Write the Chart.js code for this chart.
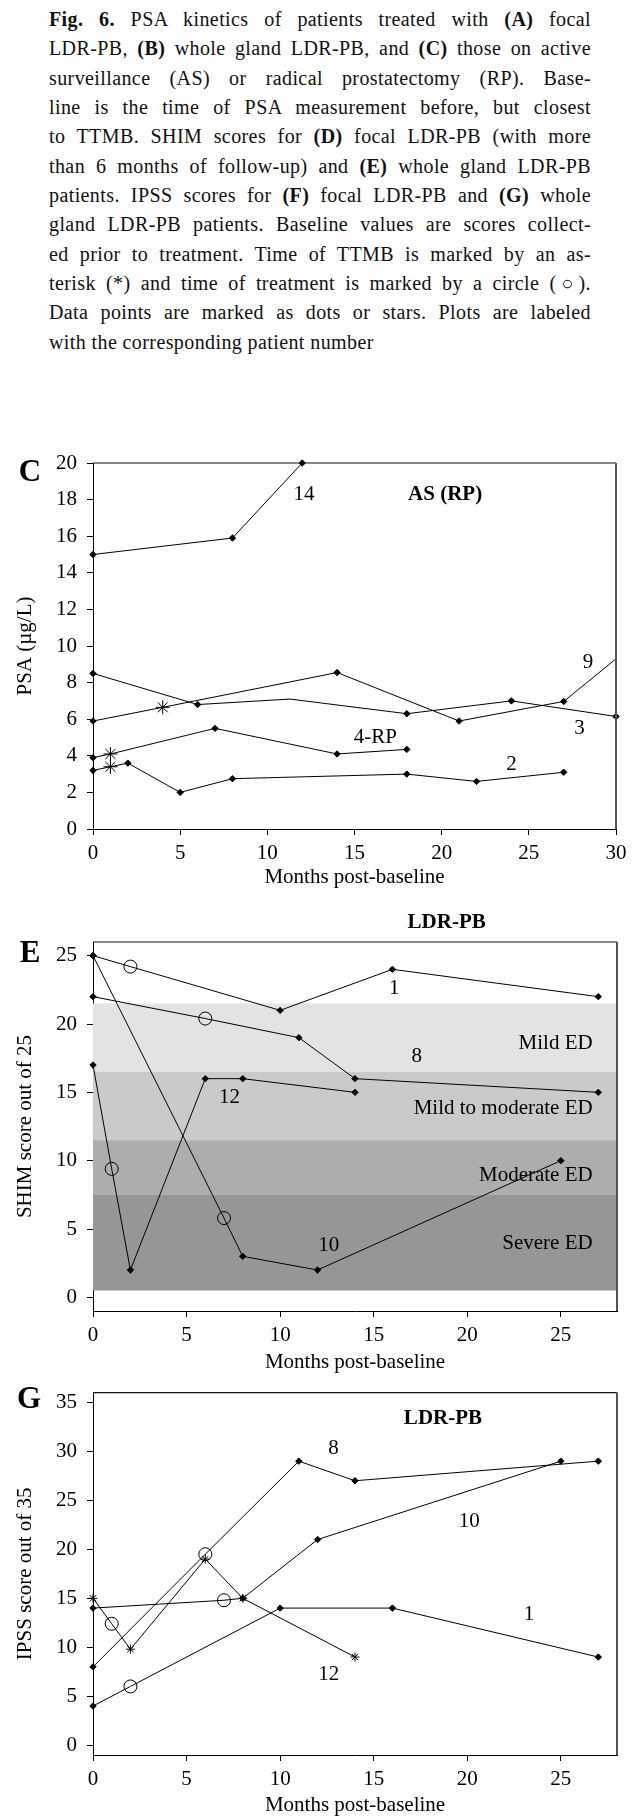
<!DOCTYPE html>
<html>
<head>
<meta charset="utf-8">
<script src="https://cdn.jsdelivr.net/npm/chart.js@4"></script>
<style>
  body { margin: 0; background: #fff; }
  #page { position: relative; width: 640px; height: 1818px; overflow: hidden; font-family: "Liberation Serif", serif; color: #111; }
  #caption { position: absolute; left: 49px; top: 5px; width: 542px; font-size: 20px; line-height: 29.33px; letter-spacing: 0.4px; white-space: nowrap; }
  #caption div { text-align: justify; text-align-last: justify; }
  #caption div.last { text-align-last: left; }
  canvas.panel { position: absolute; left: 0; }
</style>
</head>
<body>
<div id="page">
  <div id="caption">
    <div><b>Fig. 6.</b> PSA kinetics of patients treated with <b>(A)</b> focal</div>
    <div>LDR-PB, <b>(B)</b> whole gland LDR-PB, and <b>(C)</b> those on active</div>
    <div>surveillance (AS) or radical prostatectomy (RP). Base-</div>
    <div>line is the time of PSA measurement before, but closest</div>
    <div>to TTMB. SHIM scores for <b>(D)</b> focal LDR-PB (with more</div>
    <div>than 6 months of follow-up) and <b>(E)</b> whole gland LDR-PB</div>
    <div>patients. IPSS scores for <b>(F)</b> focal LDR-PB and <b>(G)</b> whole</div>
    <div>gland LDR-PB patients. Baseline values are scores collect-</div>
    <div>ed prior to treatment. Time of TTMB is marked by an as-</div>
    <div>terisk (*) and time of treatment is marked by a circle (○).</div>
    <div>Data points are marked as dots or stars. Plots are labeled</div>
    <div class="last">with the corresponding patient number</div>
  </div>
  <canvas id="chartC" class="panel" style="top:440px;width:640px;height:450px" width="640" height="450"></canvas>
  <canvas id="chartE" class="panel" style="top:895px;width:640px;height:480px" width="640" height="480"></canvas>
  <canvas id="chartG" class="panel" style="top:1370px;width:640px;height:448px" width="640" height="448"></canvas>
</div>
<script>
// event codes: m = measurement, t = TTMB (asterisk), r = treatment (circle), e = line runs on, no mark

// --- C: PSA, AS (RP) ---
const cTicksX = [0, 5, 10, 15, 20, 25, 30];
const cTicksY = [0, 2, 4, 6, 8, 10, 12, 14, 16, 18, 20];
const c14Month = [0, 8, 12];
const c14Psa = [15, 15.9, 20];
const c14Event = ["m", "m", "m"];
const c3Month = [0, 6, 11.3, 18, 24, 30];
const c3Psa = [8.5, 6.8, 7.1, 6.3, 7.0, 6.15];
const c3Event = ["m", "m", "e", "m", "m", "m"];
const c9Month = [0, 4, 14, 21, 27, 30];
const c9Psa = [5.9, 6.65, 8.55, 5.9, 6.97, 9.3];
const c9Event = ["m", "t", "m", "m", "m", "e"];
const c4Month = [0, 1, 7, 14, 18];
const c4Psa = [3.9, 4.1, 5.5, 4.1, 4.35];
const c4Event = ["m", "t", "m", "m", "m"];
const c2Month = [0, 1, 2, 5, 8, 18, 22, 27];
const c2Psa = [3.2, 3.4, 3.6, 2.0, 2.75, 3.0, 2.6, 3.1];
const c2Event = ["m", "t", "m", "m", "m", "m", "m", "m"];

// --- E: SHIM, LDR-PB ---
const eTicksX = [0, 5, 10, 15, 20, 25];
const eTicksY = [0, 5, 10, 15, 20, 25];
const eBandName = ["Mild ED", "Mild to moderate ED", "Moderate ED", "Severe ED"];
const eBandTop = [21.5, 16.5, 11.5, 7.5];
const eBandBottom = [16.5, 11.5, 7.5, 0.5];
const e1Month = [0, 2, 10, 16, 27];
const e1Shim = [25, 24.2, 21, 24, 22];
const e1Event = ["m", "r", "m", "m", "m"];
const e8Month = [0, 6, 11, 14, 27];
const e8Shim = [22, 20.4, 19, 16, 15];
const e8Event = ["m", "r", "m", "m", "m"];
const e12Month = [0, 1, 2, 6, 8, 14];
const e12Shim = [17, 9.4, 2, 16, 16, 15];
const e12Event = ["m", "r", "m", "m", "m", "m"];
const e10Month = [0, 7, 8, 12, 25];
const e10Shim = [25, 5.8, 3, 2, 10];
const e10Event = ["m", "r", "m", "m", "m"];

// --- G: IPSS, LDR-PB ---
const gTicksX = [0, 5, 10, 15, 20, 25];
const gTicksY = [0, 5, 10, 15, 20, 25, 30, 35];
const g8Month = [0, 6, 11, 14, 27];
const g8Ipss = [8, 19.5, 29, 27, 29];
const g8Event = ["m", "r", "m", "m", "m"];
const g12Month = [0, 1, 2, 6, 8, 14];
const g12Ipss = [15, 12.4, 9.8, 19, 15, 9];
const g12Event = ["m", "r", "m", "m", "m", "m"];
const g10Month = [0, 7, 8, 12, 25];
const g10Ipss = [14, 14.8, 15, 21, 29];
const g10Event = ["m", "r", "m", "m", "m"];
const g1Month = [0, 2, 10, 16, 27];
const g1Ipss = [4, 6, 14, 14, 9];
const g1Event = ["m", "r", "m", "m", "m"];

const FONT = "Liberation Serif";
const bandColors = ["#e3e3e3", "#cacaca", "#adadad", "#969696"];

Chart.defaults.font.family = FONT;
Chart.defaults.font.size = 21;
Chart.defaults.color = "#000";

// one line per patient, markers picked from the event codes
function series(months, values, events, dataShape, dataSize) {
  const shape = dataShape || "rectRot";
  const size = dataSize || 3.2;
  return {
    data: months.map((m, i) => ({ x: m, y: values[i] })),
    borderColor: "#000",
    borderWidth: 1,
    tension: 0,
    fill: false,
    clip: false,
    pointBorderColor: "#000",
    pointStyle: c => {
      const ev = events[c.dataIndex];
      if (ev === "t") return "star";
      if (ev === "r") return "circle";
      return shape;
    },
    pointRadius: c => {
      const ev = events[c.dataIndex];
      if (ev === "e") return 0;
      if (ev === "t") return 7;
      if (ev === "r") return 6.5;
      return size;
    },
    pointBorderWidth: 1,
    pointBackgroundColor: c => events[c.dataIndex] === "r" ? "rgba(0,0,0,0)" : "#000"
  };
}

// bands, frame, letter and the text notes inside each plot
const panelDecor = {
  id: "panelDecor",
  beforeDatasetsDraw(chart, args, opts) {
    const { ctx, chartArea: a, scales: { y } } = chart;
    (opts.bands || []).forEach(b => {
      const top = y.getPixelForValue(b.from);
      const bottom = y.getPixelForValue(b.to);
      ctx.fillStyle = b.color;
      ctx.fillRect(a.left, top, a.right - a.left, bottom - top);
    });
  },
  afterDatasetsDraw(chart, args, opts) {
    const { ctx, chartArea: a, scales: { x, y } } = chart;
    ctx.save();
    ctx.strokeStyle = "#111";
    ctx.lineWidth = 1.2;
    ctx.beginPath();
    ctx.moveTo(a.left, a.top);
    ctx.lineTo(a.right, a.top);
    ctx.stroke();
    ctx.strokeStyle = "#555";
    ctx.lineWidth = 2;
    ctx.beginPath();
    ctx.moveTo(a.right, a.top);
    ctx.lineTo(a.right, a.bottom);
    ctx.stroke();

    ctx.fillStyle = "#000";
    ctx.textBaseline = "middle";
    (opts.notes || []).forEach(n => {
      ctx.font = (n.bold ? "bold " : "") + "21px '" + FONT + "'";
      ctx.textAlign = n.align || "center";
      ctx.fillText(n.text, x.getPixelForValue(n.x), y.getPixelForValue(n.y));
    });
    if (opts.letter) {
      ctx.font = "bold 31px '" + FONT + "'";
      ctx.textAlign = "center";
      ctx.fillText(opts.letter.text, opts.letter.x, opts.letter.y);
    }
    ctx.restore();
  }
};

function axis(min, max, ticks, title, fitSize, vertical) {
  return {
    type: "linear",
    min: min,
    max: max,
    afterBuildTicks: sc => { sc.ticks = ticks.map(v => ({ value: v })); },
    afterFit: sc => { if (vertical) sc.width = fitSize; else sc.height = fitSize; },
    grid: { drawOnChartArea: false, tickLength: 6, color: "#000" },
    border: { color: "#000", width: 1 },
    ticks: { padding: vertical ? 10 : 6, color: "#000", font: { size: 21 } },
    title: { display: true, text: title, color: "#000", font: { size: 21 }, padding: vertical ? { top: 13 } : { bottom: 0 } }
  };
}

function makePanel(id, datasets, xAxis, yAxis, padding, decor) {
  return new Chart(document.getElementById(id), {
    type: "line",
    data: { datasets: datasets },
    options: {
      responsive: false,
      animation: false,
      layout: { padding: padding },
      plugins: { legend: { display: false }, tooltip: { enabled: false }, panelDecor: decor },
      scales: { x: xAxis, y: yAxis }
    },
    plugins: [panelDecor]
  });
}

makePanel("chartC",
  [
    series(c14Month, c14Psa, c14Event),
    series(c3Month, c3Psa, c3Event),
    series(c9Month, c9Psa, c9Event),
    series(c4Month, c4Psa, c4Event),
    series(c2Month, c2Psa, c2Event)
  ],
  axis(0, 30, cTicksX, "Months post-baseline", 61, false),
  axis(0, 20, cTicksY, "PSA (µg/L)", 93, true),
  { top: 23, right: 24, bottom: 0, left: 0 },
  {
    letter: { text: "C", x: 30, y: 33 },
    notes: [
      { text: "14", x: 12.1, y: 18.3 },
      { text: "AS (RP)", x: 20.2, y: 18.3, bold: true },
      { text: "9", x: 28.4, y: 9.1 },
      { text: "3", x: 27.9, y: 5.5 },
      { text: "4-RP", x: 16.2, y: 5.0 },
      { text: "2", x: 24.0, y: 3.55 }
    ]
  });

makePanel("chartE",
  [
    series(e1Month, e1Shim, e1Event),
    series(e8Month, e8Shim, e8Event),
    series(e12Month, e12Shim, e12Event),
    series(e10Month, e10Shim, e10Event)
  ],
  axis(0, 28, eTicksX, "Months post-baseline", 64, false),
  axis(-1, 26, eTicksY, "SHIM score out of 25", 93, true),
  { top: 47, right: 23, bottom: 0, left: 0 },
  {
    letter: { text: "E", x: 30, y: 59 },
    bands: eBandName.map((n, i) => ({ from: eBandTop[i], to: eBandBottom[i], color: bandColors[i] })),
    notes: [
      { text: "LDR-PB", x: 18.9, y: 27.4, bold: true },
      { text: "1", x: 16.1, y: 22.6 },
      { text: "8", x: 17.3, y: 17.6 },
      { text: "12", x: 7.3, y: 14.6 },
      { text: "10", x: 12.6, y: 3.76 },
      { text: eBandName[0], x: 26.7, y: 18.6, align: "right" },
      { text: eBandName[1], x: 26.7, y: 13.84, align: "right" },
      { text: eBandName[2], x: 26.7, y: 8.9, align: "right" },
      { text: eBandName[3], x: 26.7, y: 3.93, align: "right" }
    ]
  });

const g12 = series(g12Month, g12Ipss, g12Event, "star", 4.5);

makePanel("chartG",
  [
    series(g8Month, g8Ipss, g8Event),
    g12,
    series(g10Month, g10Ipss, g10Event),
    series(g1Month, g1Ipss, g1Event)
  ],
  axis(0, 28, gTicksX, "Months post-baseline", 63, false),
  axis(-1, 36, gTicksY, "IPSS score out of 35", 93, true),
  { top: 17, right: 23, bottom: 0, left: 0 },
  {
    letter: { text: "G", x: 29, y: 30 },
    notes: [
      { text: "LDR-PB", x: 18.7, y: 33.3, bold: true },
      { text: "8", x: 12.85, y: 30.3 },
      { text: "10", x: 20.1, y: 22.8 },
      { text: "1", x: 23.3, y: 13.3 },
      { text: "12", x: 12.6, y: 7.2 }
    ]
  });
</script>
</body>
</html>
